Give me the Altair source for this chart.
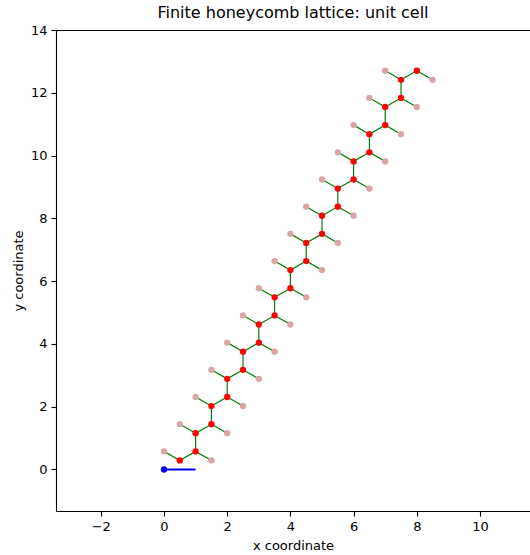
import altair as alt
import pandas as pd

# Unit-cell sites (red), sublattice A and B, one pair per cell along a2
a_x = [0.5, 1.0, 1.5, 2.0, 2.5, 3.0, 3.5, 4.0, 4.5, 5.0, 5.5, 6.0, 6.5, 7.0, 7.5]
a_y = [0.289, 1.155, 2.021, 2.887, 3.753, 4.619, 5.485, 6.351, 7.217, 8.083,
       8.949, 9.815, 10.681, 11.547, 12.413]
b_x = [1.0, 1.5, 2.0, 2.5, 3.0, 3.5, 4.0, 4.5, 5.0, 5.5, 6.0, 6.5, 7.0, 7.5, 8.0]
b_y = [0.577, 1.443, 2.309, 3.175, 4.041, 4.907, 5.774, 6.640, 7.506, 8.372,
       9.238, 10.104, 10.970, 11.836, 12.702]

# Neighbouring sites in adjacent cells (pink)
nl_x = [0.0, 0.5, 1.0, 1.5, 2.0, 2.5, 3.0, 3.5, 4.0, 4.5, 5.0, 5.5, 6.0, 6.5, 7.0]
nl_y = [0.577, 1.443, 2.309, 3.175, 4.041, 4.907, 5.774, 6.640, 7.506, 8.372,
        9.238, 10.104, 10.970, 11.836, 12.702]
nr_x = [1.5, 2.0, 2.5, 3.0, 3.5, 4.0, 4.5, 5.0, 5.5, 6.0, 6.5, 7.0, 7.5, 8.0, 8.5]
nr_y = [0.289, 1.155, 2.021, 2.887, 3.753, 4.619, 5.485, 6.351, 7.217, 8.083,
        8.949, 9.815, 10.681, 11.547, 12.413]

# Lattice vector (blue)
vec_x = [0.0, 1.0]
vec_y = [0.0, 0.0]

x_ticks = [-2, 0, 2, 4, 6, 8, 10]
y_ticks = [0, 2, 4, 6, 8, 10, 12, 14]

# ---- tables built from the lists ----
pts = pd.DataFrame({
    "x": nl_x + nr_x + a_x + b_x,
    "y": nl_y + nr_y + a_y + b_y,
    "kind": ["neighbor"] * (len(nl_x) + len(nr_x)) + ["site"] * (len(a_x) + len(b_x)),
})

rows = []
n = len(a_x)
for i in range(n):
    rows.append((a_x[i], a_y[i], b_x[i], b_y[i]))
    rows.append((a_x[i], a_y[i], nl_x[i], nl_y[i]))
    rows.append((b_x[i], b_y[i], nr_x[i], nr_y[i]))
    if i < n - 1:
        rows.append((b_x[i], b_y[i], a_x[i + 1], a_y[i + 1]))
segs = pd.DataFrame(rows, columns=["x", "y", "x2", "y2"])

vec = pd.DataFrame({"x": vec_x, "y": vec_y, "order": [0, 1]})
origin = vec.iloc[[0]]

FONT = "DejaVu Sans"
xscale = alt.Scale(domain=[-3.418, 11.582], nice=False, zero=False)
yscale = alt.Scale(domain=[-1.322, 14.0], nice=False, zero=False)

x_axis = alt.Axis(orient="bottom", values=x_ticks, grid=False, title="x coordinate", format="d",
                  tickSize=5, labelPadding=4, titleY=34, titleBaseline="middle")
y_axis = alt.Axis(values=y_ticks, grid=False, title="y coordinate", format="d",
                  tickSize=5, labelPadding=4, titleX=-38, titleBaseline="middle")
top_axis = alt.Axis(orient="top", labels=False, ticks=False, title=None, grid=False,
                    domain=True, values=x_ticks)

bonds = alt.Chart(segs).mark_rule(color="green", strokeWidth=1.2).encode(
    x=alt.X("x:Q", scale=xscale, axis=x_axis),
    y=alt.Y("y:Q", scale=yscale, axis=y_axis),
    x2="x2:Q", y2="y2:Q",
)

dots = alt.Chart(pts).mark_circle(size=40, opacity=1).encode(
    x=alt.X("x:Q", scale=xscale, axis=None),
    y=alt.Y("y:Q", scale=yscale, axis=y_axis),
    color=alt.Color("kind:N", scale=alt.Scale(domain=["site", "neighbor"],
                                              range=["#ff0000", "#d9a6a6"]), legend=None),
)

vline = alt.Chart(vec).mark_line(color="blue", strokeWidth=2).encode(
    x=alt.X("x:Q", scale=xscale, axis=top_axis),
    y=alt.Y("y:Q", scale=yscale, axis=y_axis),
    order="order:Q",
)
vdot = alt.Chart(origin).mark_circle(size=40, color="blue", opacity=1).encode(
    x=alt.X("x:Q", scale=xscale, axis=None),
    y=alt.Y("y:Q", scale=yscale, axis=y_axis),
)

chart = alt.layer(bonds, dots, vline, vdot).resolve_axis(x="independent").properties(
    width=474, height=481,
    title=alt.TitleParams("Finite honeycomb lattice: unit cell", fontSize=16, font=FONT,
                          fontWeight="normal", anchor="middle", offset=3, color="black"),
    autosize=alt.AutoSizeParams(type="none"),
    padding={"left": 56, "top": 30, "right": 0, "bottom": 44},
).configure_view(stroke=None).configure_axis(
    labelFont=FONT, titleFont=FONT, labelFontSize=13, titleFontSize=13,
    titleFontWeight="normal", labelColor="black", titleColor="black",
    domainColor="black", tickColor="black", domainWidth=1.1, tickWidth=1.1,
)

chart.save("out.html", embed_options={"renderer": "svg", "actions": False})
